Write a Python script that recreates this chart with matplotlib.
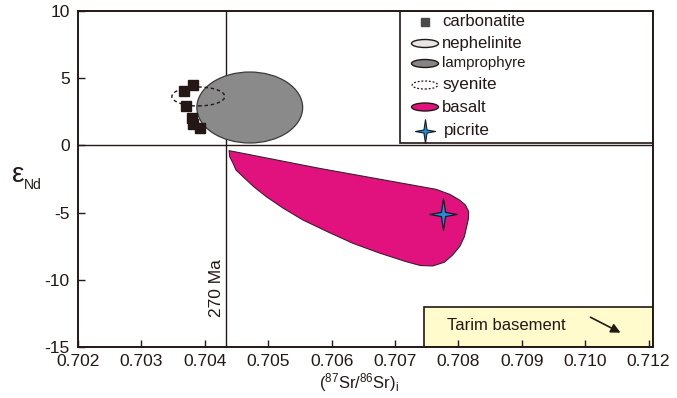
import matplotlib
matplotlib.use("Agg")
import matplotlib.pyplot as plt
from matplotlib.patches import Ellipse, Polygon, Rectangle
from matplotlib.path import Path
import numpy as np

plt.rcParams['font.family'] = ['Liberation Sans', 'DejaVu Sans']
plt.rcParams['axes.unicode_minus'] = False
plt.rcParams['mathtext.fontset'] = 'custom'
plt.rcParams['mathtext.rm'] = 'Liberation Sans'
plt.rcParams['mathtext.it'] = 'Liberation Sans:italic'

# ---------------- data ----------------
xtick_vals = [0.702, 0.703, 0.704, 0.705, 0.706, 0.707, 0.708, 0.709, 0.710, 0.711]
xtick_labels = ['0.702', '0.703', '0.704', '0.705', '0.706', '0.707', '0.708', '0.709', '0.710', '0.712']
ytick_vals = [10, 5, 0, -5, -10, -15]

carbonatite_x = [0.703806, 0.703669, 0.703701, 0.703791, 0.703816, 0.703932]
carbonatite_y = [4.47, 4.03, 2.91, 2.04, 1.59, 1.29]

lamprophyre_center = (0.704709, 2.82)
lamprophyre_size = (0.001669, 5.28)

syenite_center = (0.703898, 3.64)
syenite_size = (0.000835, 1.41)

basalt_x = [0.704383, 0.705800, 0.707649, 0.707868, 0.708016, 0.708110, 0.708162,
            0.708157, 0.708094, 0.708025, 0.707910, 0.707780, 0.707595, 0.707402,
            0.707176, 0.706756, 0.706335, 0.705943, 0.705548, 0.705233, 0.704972,
            0.704776, 0.704603, 0.704492, 0.704446, 0.704394]
basalt_y = [-0.39, -1.70, -3.27, -3.65, -4.06, -4.43, -4.93,
            -5.49, -6.79, -7.49, -8.15, -8.69, -8.97, -8.94,
            -8.65, -8.01, -7.28, -6.44, -5.55, -4.66, -3.82,
            -3.09, -2.33, -1.83, -1.33, -0.86]

picrite_x = [0.707756]
picrite_y = [-5.10]

age_line_x = 0.704334
tarim_box_x0 = 0.707465
tarim_box_y1 = -12.0
arrow_start = (0.710044, -12.69)
arrow_end = (0.710596, -14.03)

# ---------------- figure ----------------
dark = '#231815'
fig = plt.figure(figsize=(6.77, 3.98), dpi=100)
ax = fig.add_axes([78/677, 1-347/398, 575/677, 336/398])
xmin, xmax = 0.702, 0.702 + 575/63400
ax.set_xlim(xmin, xmax)
ax.set_ylim(-15, 10)

# Tarim basement box
ax.add_patch(Rectangle((tarim_box_x0, -15), xmax - tarim_box_x0, tarim_box_y1 + 15,
                       facecolor='#FFFBCC', edgecolor=dark, lw=1.2, zorder=1))
ax.text(0.707815, -13.42, 'Tarim basement', fontsize=12, color=dark, va='center', ha='left', zorder=2)
ax.annotate('', xy=arrow_end, xytext=arrow_start,
            arrowprops=dict(arrowstyle='-|>', color=dark, lw=1.2, mutation_scale=14), zorder=2)

# reference lines
ax.axhline(0, color=dark, lw=1.0, zorder=1)
ax.axvline(age_line_x, color=dark, lw=1.0, zorder=1)
ax.text(0.704192, -10.61, '270 Ma', rotation=90, fontsize=12.5, color=dark,
        ha='center', va='center', zorder=2)

# lamprophyre
ax.add_patch(Ellipse(lamprophyre_center, lamprophyre_size[0], lamprophyre_size[1],
                     facecolor='#8A8A8A', edgecolor='#3a3a3a', lw=0.9, zorder=3))

# basalt
ax.add_patch(Polygon(np.column_stack([basalt_x, basalt_y]), closed=True,
                     facecolor='#E1127D', edgecolor='#3a2030', lw=0.8, joinstyle='round', zorder=3))

# carbonatite squares
ax.plot(carbonatite_x, carbonatite_y, 's', color=dark, markersize=7, zorder=4, lw=0)

# syenite dotted ellipse
ax.add_patch(Ellipse(syenite_center, syenite_size[0], syenite_size[1],
                     facecolor='none', edgecolor=dark, lw=1.0, ls=(0, (2.5, 2.0)), zorder=5))

# picrite star
star = Path([(0, 1), (0.13, 0.13), (0.85, 0), (0.13, -0.13), (0, -1),
             (-0.13, -0.13), (-0.85, 0), (-0.13, 0.13), (0, 1)],
            [Path.MOVETO] + [Path.LINETO]*7 + [Path.CLOSEPOLY])
ax.plot(picrite_x, picrite_y, marker=star, markersize=23, markerfacecolor='#1C8FE0',
        markeredgecolor='#1a1a1a', markeredgewidth=0.9, lw=0, zorder=6)

# ---------------- legend (manual) ----------------
T = ax.transAxes
lx0 = (400-78)/575
ly0 = (347-143)/336
ax.add_patch(Rectangle((lx0, ly0), 1-lx0, 1-ly0, transform=T, facecolor='white',
                       edgecolor=dark, lw=1.2, zorder=7))
sx = (425-78)/575
tx = (442-78)/575
rows = [(347-py)/336 for py in [22, 43.5, 63.5, 85, 107, 131]]
ew, eh = 27/575, 8/336
ax.plot([sx], [rows[0]], 's', transform=T, color='#4a4a4a', markersize=5.2, zorder=8)
ax.add_patch(Ellipse((sx, rows[1]), ew, eh, transform=T, facecolor='#E6E6E6', edgecolor=dark, lw=1.0, zorder=8))
ax.add_patch(Ellipse((sx, rows[2]), ew, eh, transform=T, facecolor='#858585', edgecolor=dark, lw=1.0, zorder=8))
ax.add_patch(Ellipse((sx, rows[3]), ew*0.95, eh, transform=T, facecolor='none', edgecolor=dark, lw=0.9,
                     ls=(0, (1.5, 1.5)), zorder=8))
ax.add_patch(Ellipse((sx, rows[4]), ew, eh, transform=T, facecolor='#E1127D', edgecolor=dark, lw=1.0, zorder=8))
ax.plot([sx], [rows[5]], marker=star, transform=T, markersize=17, markerfacecolor='#1C8FE0',
        markeredgecolor='#1a1a1a', markeredgewidth=0.8, lw=0, zorder=8)
labels = ['carbonatite', 'nephelinite', 'lamprophyre', 'syenite', 'basalt', 'picrite']
sizes = [12, 12, 10.8, 12.3, 12, 12.3]
for i, (lab, fs) in enumerate(zip(labels, sizes)):
    ax.text(tx + (0.003 if i == 5 else 0), rows[i], lab, transform=T, fontsize=fs, color=dark,
            va='center', ha='left', zorder=9)

# ---------------- axes style ----------------
ax.set_xticks(xtick_vals)
ax.set_xticklabels(xtick_labels)
ax.set_yticks(ytick_vals)
ax.set_yticklabels([str(v) for v in ytick_vals])
ax.tick_params(axis='both', direction='in', length=5, width=1.0, colors=dark, labelsize=12.5,
               top=False, right=False)
ax.tick_params(axis='x', pad=5)
ax.tick_params(axis='y', pad=6)
for s in ax.spines.values():
    s.set_color(dark)
    s.set_linewidth(1.4)
    s.set_zorder(10)

fig.text(359/677, 1-383/398, r'$(^{87}\mathrm{Sr}/^{86}\mathrm{Sr})_{\mathrm{i}}$', fontsize=12,
         ha='center', va='center', color=dark)
fig.text(18/677, 1-175/398, 'ε', fontsize=20, ha='center', va='center', color=dark)
fig.text(24/677, 1-185/398, 'Nd', fontsize=10, ha='left', va='center', color=dark)

fig.savefig('out.png', dpi=100)
